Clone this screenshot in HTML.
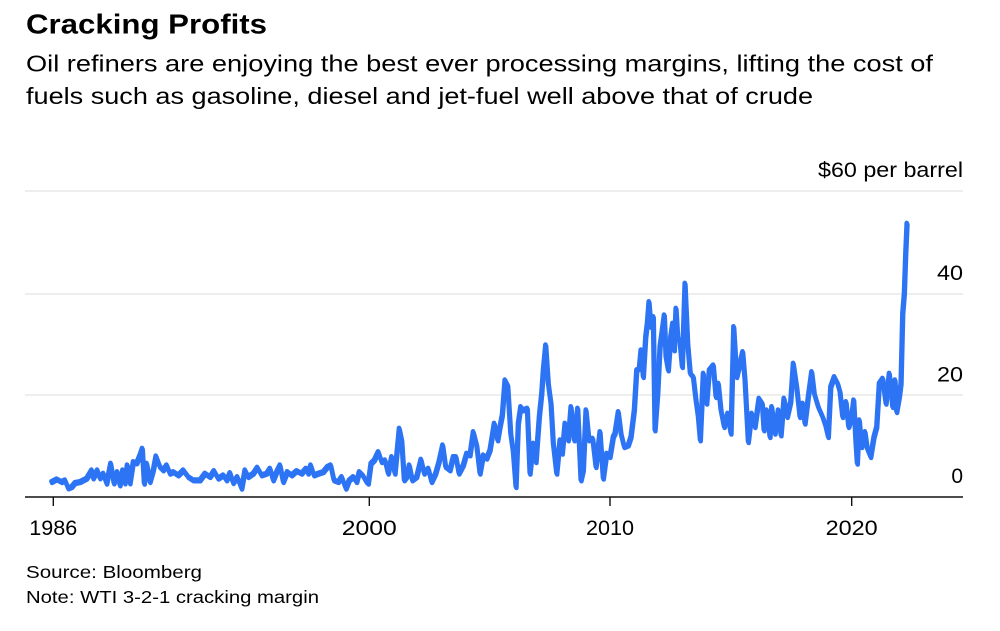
<!DOCTYPE html>
<html>
<head>
<meta charset="utf-8">
<style>
  html,body{margin:0;padding:0;background:#fff;}
  body{width:1000px;height:631px;overflow:hidden;}
  svg{display:block;}
  text{font-family:"Liberation Sans", Arial, sans-serif;fill:#000;}
</style>
</head>
<body>
<svg width="1000" height="631" viewBox="0 0 1000 631" xmlns="http://www.w3.org/2000/svg">
  <defs>
    <polyline id="ln" fill="none" stroke="#2d74f5" stroke-width="4.6" stroke-linejoin="round" stroke-linecap="round"
    points="51.7,481.7 56.7,479 61.7,481.7 65,480 68.3,488 71.7,486.7 75,482.7 80,481.7 86.7,478.3 91.7,470 93.3,478 97.3,470 100,478 103.3,473.3 106.7,483.3 110.7,463.3 114,483 117.3,471.7 120,485 122.7,470 125,483 127.3,465 130,483 133.3,461.7 136.7,463 140,455 142.3,448.3 144.3,483.3 146.7,463.3 150,481.7 153.3,470 156,456 160,466.7 163.3,470 166.7,465 170,473.3 173.3,471.7 178.3,475 183.3,470 188.3,476.7 193.3,480 200,480 205,473.3 210,476.7 214,470.7 218.3,478.3 223.3,475 226.7,480 230,472.7 233.3,482.7 237.3,476.7 241.7,488.3 245,470 248.3,476.7 253.3,473.3 257.3,467.3 261.7,475 266.7,473.3 270,468.3 273.3,480 276.7,471.7 280,465 283.3,481.7 287.3,471.7 291.7,475 296.7,470.7 301.7,473.3 306,468.3 308.3,473.3 310.7,465 314,475 318.3,473.3 323.3,471.7 327.3,466.7 330.7,465 334,480 338.3,481.7 341.7,476.7 346,488.3 349.3,480 353.3,476.7 356.7,481.7 359.3,471.7 362.7,475 366.7,481.7
    368.3,483.3 371,463.3 374.3,460 378.3,451.7 381.7,461.7 385,460 388.3,473.3 391.7,456.7 395,473.3 399.3,428.3 401.7,440 404.3,480 406.7,476.7 409.3,465 412.3,480 416.7,476.7 421,459.3 424.3,473.3 428.3,468.3 431.7,481.7 435.7,473.3 439,461.7 442.7,445 445.7,466.7 450,470 453.3,456.7 456,456.7 459,473.3 463.3,465 466.7,453.3 470,455 473.3,431.7 476.7,445 480,473.3 483.3,455 486.7,458.3 490,450 494.3,423.3 497.7,440 500,426.7 502.3,415 505,380 507.7,385 510.7,433.3 513.3,451.7 516,486.7 518.3,423.3 520.7,406.7 523.3,410 527.3,408.3 530,473.3 533.3,443.3 536,461.7 539.3,416.7 541.7,393.3 543.3,370 545.7,345 548.3,383.3 551,403.3 553.3,443.3 556.7,473.3 560,440 562.3,453.3 565,423.3 568.3,440 571,406.7 574.3,440 577.7,408.3 581,480 583.3,470 586,410 589,440 592.7,438.3 596,466.7 600,431.7 603.3,478.3 606.7,453.3 610,456.7
    613.3,436.7 615,433.3 618.3,411.7 621,433.3 624.3,446.7 628.3,445 631,436.7 634.3,410 636.7,370 639.3,368.3 641,350 643.3,376.7 645.7,336.7 647.3,323.3 649,301.7 651,326.7 653.3,316.7 655,430 657.7,393.3 660,346.7 662.3,330 664.3,315 666,356.7 668.3,370 670.7,336.7 672.7,323.3 674.3,350 676,308.3 677.7,336.7 680,341.7 682.3,366.7 685,283.3 687.7,343.3 690.3,373.3 693.3,376.7 696,400 698.3,416.7 700.3,440 703.3,373.3 706.7,403.3 709.3,370 713.3,365 716,396.7 718.3,383.3 721,410 724.3,426.7 727.7,413.3 731,433.3 733.7,326.7 736.7,376.7 740,363.3 742.7,351.7 745,380 748.3,441.7 751.7,413.3 755,426.7 759,398.3 762.3,403.3
    764,430 766.7,410 770,436.7 771.7,406.7 775,433.3 778.3,410 781,435 784,398.3 787.3,416.7 790.7,401.7 793.3,363.3 796.7,386.7 800,416.7 802.7,403.3 805,423.3 808.3,396.7 811.7,371.7 814.3,393.3 818.3,406.7 822.7,416.7 826,426.7 828.3,436.7 830.7,386.7 834.3,376.7 837.7,383.3 840,391.7 842.7,416.7 846,401.7 848.7,426.7 851.7,416.7 853.7,400 856,443.3 857.3,463.3 859.3,420 861.7,446.7 865,431.7 867.3,448.3 870.7,456.7 874,436.7 876.7,426.7 879.3,383.3 882.7,378.3 886,403.3 889.3,373.3 892.7,406.7 895,380 896.7,411.7 899.3,396.7 901,383.3 902.7,313.3 904.3,293.3 905.7,253.3 907,223.3"/>
  </defs>
  <rect x="0" y="0" width="1000" height="631" fill="#fff"/>
  <!-- Title & subtitle -->
  <text x="26" y="33.5" font-size="28" font-weight="bold" textLength="241" lengthAdjust="spacingAndGlyphs">Cracking Profits</text>
  <text x="26" y="71.5" font-size="23" textLength="907" lengthAdjust="spacingAndGlyphs">Oil refiners are enjoying the best ever processing margins, lifting the cost of</text>
  <text x="26" y="104" font-size="23" textLength="787" lengthAdjust="spacingAndGlyphs">fuels such as gasoline, diesel and jet-fuel well above that of crude</text>

  <!-- Gridlines -->
  <g stroke="#e8e8e8" stroke-width="1.5">
    <line x1="25" y1="191" x2="963" y2="191"/>
    <line x1="25" y1="294" x2="963" y2="294"/>
    <line x1="25" y1="395" x2="963" y2="395"/>
  </g>

  <!-- Y labels -->
  <text x="963" y="177" font-size="21" text-anchor="end" textLength="145" lengthAdjust="spacingAndGlyphs">$60 per barrel</text>
  <text x="963" y="280" font-size="21" text-anchor="end" textLength="26" lengthAdjust="spacingAndGlyphs">40</text>
  <text x="963" y="381.7" font-size="21" text-anchor="end" textLength="26" lengthAdjust="spacingAndGlyphs">20</text>
  <text x="963" y="483" font-size="21" text-anchor="end">0</text>

  <!-- Data line (doubled slightly to mimic the dense weekly series) -->
  <use href="#ln" transform="translate(0.4,1.2)"/>
  <use href="#ln" transform="translate(-0.3,-0.4)"/>

  <!-- X axis -->
  <line x1="25" y1="497" x2="963" y2="497" stroke="#111" stroke-width="1.4"/>
  <g stroke="#111" stroke-width="1.4">
    <line x1="53.3" y1="497" x2="53.3" y2="506"/>
    <line x1="369.3" y1="497" x2="369.3" y2="506"/>
    <line x1="610" y1="497" x2="610" y2="506"/>
    <line x1="851.7" y1="497" x2="851.7" y2="506"/>
  </g>
  <text x="53.3" y="535" font-size="21" text-anchor="middle" textLength="48" lengthAdjust="spacingAndGlyphs">1986</text>
  <text x="369.3" y="535" font-size="21" text-anchor="middle" textLength="55" lengthAdjust="spacingAndGlyphs">2000</text>
  <text x="610" y="535" font-size="21" text-anchor="middle" textLength="48" lengthAdjust="spacingAndGlyphs">2010</text>
  <text x="851.7" y="535" font-size="21" text-anchor="middle" textLength="52" lengthAdjust="spacingAndGlyphs">2020</text>

  <!-- Footer -->
  <text x="26" y="578" font-size="17.5" textLength="176" lengthAdjust="spacingAndGlyphs">Source: Bloomberg</text>
  <text x="26" y="603" font-size="17.5" textLength="293" lengthAdjust="spacingAndGlyphs">Note: WTI 3-2-1 cracking margin</text>
</svg>
</body>
</html>
